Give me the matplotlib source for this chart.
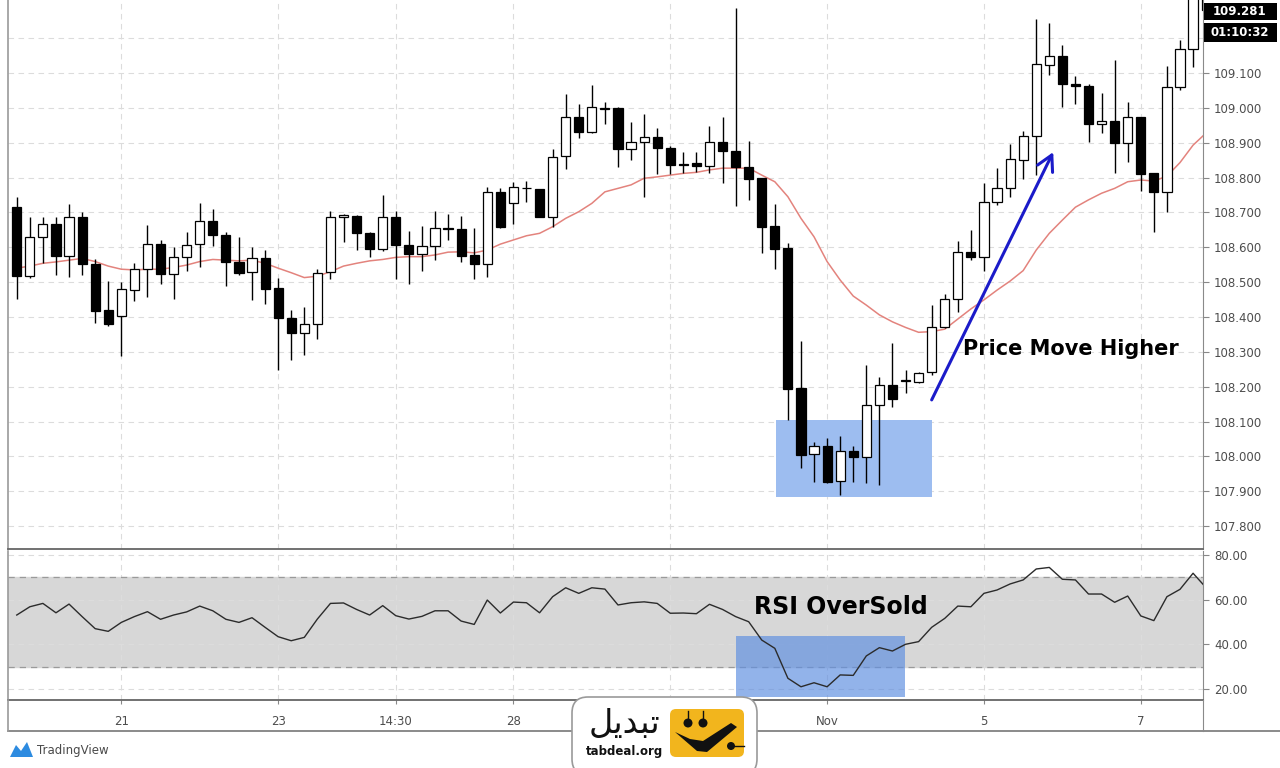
import numpy as np
import matplotlib.pyplot as plt
from matplotlib.patches import Rectangle, FancyBboxPatch, Circle, Polygon
from matplotlib.lines import Line2D

# 4h candles (open, high, low, close)
opens = [108.716, 108.518, 108.629, 108.667, 108.576, 108.688, 108.552, 108.420, 108.403, 108.477,
         108.537, 108.609, 108.523, 108.573, 108.609, 108.676, 108.635, 108.558, 108.528, 108.570,
         108.482, 108.398, 108.353, 108.379, 108.529, 108.686, 108.690, 108.642, 108.595, 108.688,
         108.606, 108.580, 108.604, 108.655, 108.652, 108.578, 108.552, 108.759, 108.728, 108.771,
         108.766, 108.688, 108.862, 108.975, 108.932, 109.000, 108.999, 108.882, 108.901, 108.917,
         108.886, 108.838, 108.841, 108.834, 108.903, 108.877, 108.831, 108.798, 108.661, 108.597,
         108.195, 108.006, 108.030, 107.930, 108.016, 107.999, 108.147, 108.205, 108.215, 108.214,
         108.241, 108.372, 108.451, 108.587, 108.571, 108.731, 108.769, 108.850, 108.919, 109.123,
         109.150, 109.068, 109.063, 108.954, 108.963, 108.900, 108.973, 108.812, 108.758, 109.059,
         109.168, 109.330]
highs = [108.745, 108.686, 108.686, 108.686, 108.723, 108.700, 108.567, 108.504, 108.500, 108.554,
         108.664, 108.621, 108.602, 108.643, 108.726, 108.710, 108.645, 108.630, 108.602, 108.592,
         108.511, 108.420, 108.429, 108.537, 108.705, 108.696, 108.694, 108.645, 108.750, 108.704,
         108.648, 108.661, 108.704, 108.695, 108.690, 108.654, 108.772, 108.769, 108.788, 108.791,
         108.768, 108.881, 109.039, 109.011, 109.066, 109.018, 109.003, 108.959, 108.982, 108.941,
         108.891, 108.874, 108.874, 108.948, 108.973, 109.286, 108.906, 108.800, 108.723, 108.611,
         108.331, 108.042, 108.052, 108.058, 108.030, 108.262, 108.229, 108.324, 108.248, 108.243,
         108.434, 108.466, 108.618, 108.650, 108.784, 108.828, 108.896, 108.934, 109.254, 109.243,
         109.180, 109.091, 109.068, 109.042, 109.137, 109.018, 108.975, 108.813, 109.121, 109.195,
         109.340, 109.345]
lows = [108.451, 108.513, 108.554, 108.520, 108.514, 108.520, 108.384, 108.375, 108.288, 108.447,
        108.456, 108.494, 108.451, 108.533, 108.542, 108.604, 108.489, 108.520, 108.449, 108.437,
        108.248, 108.277, 108.291, 108.336, 108.508, 108.616, 108.592, 108.573, 108.590, 108.508,
        108.495, 108.533, 108.563, 108.621, 108.557, 108.508, 108.514, 108.654, 108.666, 108.731,
        108.686, 108.659, 108.824, 108.913, 108.927, 108.954, 108.829, 108.850, 108.745, 108.810,
        108.810, 108.814, 108.817, 108.812, 108.785, 108.718, 108.736, 108.583, 108.537, 108.104,
        107.966, 107.927, 107.924, 107.889, 107.927, 107.923, 107.918, 108.142, 108.181, 108.211,
        108.233, 108.367, 108.415, 108.563, 108.533, 108.721, 108.745, 108.795, 108.807, 109.094,
        109.002, 109.011, 108.903, 108.929, 108.814, 108.845, 108.762, 108.645, 108.702, 109.051,
        109.118, 109.270]
closes = [108.518, 108.629, 108.667, 108.576, 108.688, 108.552, 108.418, 108.380, 108.479, 108.537,
          108.609, 108.523, 108.573, 108.606, 108.676, 108.635, 108.558, 108.525, 108.570, 108.480,
          108.398, 108.353, 108.379, 108.527, 108.686, 108.692, 108.642, 108.595, 108.688, 108.606,
          108.580, 108.604, 108.654, 108.652, 108.576, 108.552, 108.759, 108.659, 108.772, 108.769,
          108.688, 108.860, 108.975, 108.932, 109.003, 108.997, 108.882, 108.901, 108.917, 108.886,
          108.836, 108.837, 108.833, 108.903, 108.877, 108.831, 108.796, 108.659, 108.594, 108.192,
          108.004, 108.030, 107.927, 108.016, 107.999, 108.147, 108.205, 108.164, 108.218, 108.238,
          108.372, 108.451, 108.587, 108.571, 108.731, 108.769, 108.852, 108.920, 109.125, 109.150,
          109.068, 109.063, 108.953, 108.963, 108.900, 108.973, 108.810, 108.758, 109.059, 109.168,
          109.330, 109.281]

ma_values = [108.540, 108.546, 108.554, 108.558, 108.563, 108.568, 108.559, 108.546, 108.537, 108.535,
             108.537, 108.537, 108.542, 108.549, 108.559, 108.565, 108.563, 108.561, 108.563, 108.554,
             108.540, 108.527, 108.513, 108.517, 108.530, 108.546, 108.554, 108.561, 108.565, 108.571,
             108.573, 108.573, 108.578, 108.586, 108.587, 108.584, 108.592, 108.609, 108.621, 108.633,
             108.640, 108.659, 108.683, 108.702, 108.726, 108.759, 108.769, 108.779, 108.798, 108.802,
             108.807, 108.812, 108.815, 108.822, 108.827, 108.827, 108.827, 108.807, 108.788, 108.745,
             108.683, 108.630, 108.559, 108.506, 108.460, 108.434, 108.406, 108.386, 108.370, 108.356,
             108.358, 108.365, 108.394, 108.423, 108.449, 108.477, 108.503, 108.533, 108.592, 108.640,
             108.678, 108.715, 108.736, 108.755, 108.769, 108.788, 108.793, 108.790, 108.804, 108.843,
             108.893, 108.928]

rsi_values = [53.1, 56.8, 58.3, 54.1, 58.0, 52.4, 47.0, 45.8, 49.8, 52.4,
              54.6, 51.2, 53.1, 54.5, 57.1, 55.0, 51.2, 49.8, 51.9, 47.6,
              43.4, 41.6, 43.1, 51.3, 58.3, 58.5, 55.6, 53.1, 57.3, 52.8,
              51.3, 52.5, 55.0, 55.0, 50.4, 48.9, 59.8, 54.0, 58.9, 58.6,
              54.1, 61.3, 65.3, 62.8, 65.3, 64.7, 57.6, 58.6, 59.0, 58.3,
              53.9, 54.0, 53.7, 57.9, 55.6, 52.4, 50.1, 41.9, 38.2, 24.8,
              21.0, 22.8, 21.0, 26.3, 26.1, 34.8, 38.5, 37.0, 40.0, 41.2,
              47.6, 51.6, 57.1, 56.8, 62.8, 64.3, 67.0, 68.8, 73.7, 74.4,
              69.1, 68.8, 62.5, 62.5, 58.8, 61.6, 52.7, 50.6, 61.3, 64.6,
              71.8, 65.3]

time_ticks = [8, 20, 29, 38, 50, 62, 74, 86]
time_labels = ["21", "23", "14:30", "28", "30", "Nov", "5", "7"]
price_ticks = [107.8, 107.9, 108.0, 108.1, 108.2, 108.3, 108.4, 108.5, 108.6,
               108.7, 108.8, 108.9, 109.0, 109.1, 109.2]
rsi_ticks = [20, 40, 60, 80]

last_price = "109.281"
countdown = "01:10:32"

# highlighted zones (x0, x1, y0, y1)
zone_price = (58.1, 70.0, 107.883, 108.104)
zone_rsi = (55.0, 67.96, 16.4, 43.7)
arrow_start = (70.0, 108.162)
arrow_end = (79.3, 108.873)

W, H = 1280, 768


def fx(px):
    return px / W


def fy(py):
    return 1 - py / H


fig = plt.figure(figsize=(12.8, 7.68), dpi=100)
fig.patch.set_facecolor("white")

ax = fig.add_axes([fx(8), fy(549), fx(1195), 549 / H])
ax2 = fig.add_axes([fx(8), fy(700), fx(1195), 149 / H], sharex=ax)

x = np.arange(len(opens))
o = np.array(opens)
h = np.array(highs)
l = np.array(lows)
c = np.array(closes)
up = c >= o

grid_kw = dict(color="#dcdcdc", linestyle=(0, (5, 4)), linewidth=0.8)

# main pane
ax.vlines(x, l, h, color="black", linewidth=1.0, zorder=3)
ax.bar(x, np.maximum(np.abs(c - o), 0.002), bottom=np.minimum(o, c), width=0.7,
       color=np.where(up, "white", "black"), edgecolor="black", linewidth=0.9, zorder=4)
ax.plot(x, ma_values, color="#e3837d", linewidth=1.1, zorder=2)

ax.add_patch(Rectangle((zone_price[0], zone_price[2]), zone_price[1] - zone_price[0],
                       zone_price[3] - zone_price[2], facecolor="#9dbdf0", edgecolor="none", zorder=1.5))

ax.annotate("", xy=arrow_end, xytext=arrow_start,
            arrowprops=dict(arrowstyle="->,head_length=0.55,head_width=0.3", color="#1b1bc9",
                            lw=2.2, shrinkA=0, shrinkB=0, mutation_scale=20), zorder=6)
ax.text(72.4, 108.307, "Price Move Higher", fontsize=15, fontweight="bold", color="black",
        va="center", ha="left", zorder=7)

ax.set_xlim(-0.67, 90.76)
ax.set_ylim(107.7342, 109.3095)
ax.set_xticks(time_ticks)
ax.set_yticks(price_ticks)
ax.grid(True, **grid_kw)
ax.set_axisbelow(True)
ax.yaxis.tick_right()
# the 109.200 label sits under the countdown tag
ax.set_yticklabels([f"{v:.3f}" if v < 109.15 else "" for v in price_ticks])
ax.tick_params(axis="x", length=0, labelbottom=False)
ax.tick_params(axis="y", length=4, color="#888888", labelsize=8.5, labelcolor="#4d4d4d", pad=4)

# rsi pane
ax2.axhspan(30, 70, color="#d7d7d7", zorder=0.5)
ax2.axhline(70, color="#9a9a9a", linestyle=(0, (5, 4)), linewidth=0.9, zorder=0.6)
ax2.axhline(30, color="#9a9a9a", linestyle=(0, (5, 4)), linewidth=0.9, zorder=0.6)
ax2.add_patch(Rectangle((zone_rsi[0], zone_rsi[2]), zone_rsi[1] - zone_rsi[0],
                        zone_rsi[3] - zone_rsi[2], facecolor="#5f8fe0", alpha=0.68,
                        edgecolor="none", zorder=2))
ax2.plot(x, rsi_values, color="#2b2b2b", linewidth=1.0, zorder=3)
ax2.text(56.4, 56.7, "RSI OverSold", fontsize=17, fontweight="bold", color="black",
         va="center", ha="left", zorder=7)

ax2.set_ylim(15.08, 81.75)
ax2.set_yticks(rsi_ticks)
ax2.grid(True, **grid_kw)
ax2.set_axisbelow(True)
ax2.yaxis.tick_right()
ax2.set_yticklabels([f"{v:.2f}" for v in rsi_ticks])
ax2.set_xticks(time_ticks)
ax2.set_xticklabels(time_labels)
ax2.tick_params(axis="y", length=4, color="#888888", labelsize=8.5, labelcolor="#4d4d4d", pad=4)
ax2.tick_params(axis="x", length=3, color="#888888", labelsize=8.5, labelcolor="#4d4d4d", pad=8)

for a in (ax, ax2):
    a.set_facecolor("white")
    a.spines["top"].set_visible(False)
    a.spines["left"].set_color("#9a9a9a")
    a.spines["left"].set_linewidth(1.2)
    a.spines["right"].set_color("#8a8a8a")
    a.spines["bottom"].set_color("#666666")
    a.spines["bottom"].set_linewidth(1.3)

# time axis frame
fig.add_artist(Line2D([fx(8), fx(1280)], [fy(731), fy(731)], color="#777777", lw=1.2))
fig.add_artist(Line2D([fx(8), fx(8)], [fy(700), fy(731)], color="#9a9a9a", lw=1.2))
fig.add_artist(Line2D([fx(1203), fx(1203)], [fy(700), fy(731)], color="#8a8a8a", lw=0.8))

# last price / countdown tags
fig.add_artist(Rectangle((fx(1204), fy(20)), fx(73), 17 / H, transform=fig.transFigure,
                         facecolor="black", edgecolor="none", zorder=5))
fig.add_artist(Rectangle((fx(1204), fy(42)), fx(73), 19 / H, transform=fig.transFigure,
                         facecolor="black", edgecolor="none", zorder=5))
fig.text(fx(1240), fy(11.5), last_price, color="white", fontsize=8.5, fontweight="bold",
         ha="center", va="center", zorder=6)
fig.text(fx(1240), fy(32.5), countdown, color="white", fontsize=8.5, fontweight="bold",
         ha="center", va="center", zorder=6)


# logos, drawn in pixel-like inches
def pin(px, py):
    return (px / 100, (H - py) / 100)


tr = fig.dpi_scale_trans
fig.add_artist(FancyBboxPatch(pin(572, 775), 1.85, 0.78, boxstyle="round,pad=0,rounding_size=0.16",
                              facecolor="white", edgecolor="#9a9a9a", lw=1.2, transform=tr, zorder=10))
fig.add_artist(FancyBboxPatch(pin(670, 757), 0.74, 0.48, boxstyle="round,pad=0,rounding_size=0.06",
                              facecolor="#f2b51d", edgecolor="none", transform=tr, zorder=11))
smile = [pin(675, 732), pin(690, 739), pin(703, 741), pin(731, 723), pin(737, 727),
         pin(707, 752), pin(697, 751)]
fig.add_artist(Polygon(smile, closed=True, facecolor="#111111", edgecolor="none", transform=tr, zorder=12))
for ex in (688, 703):
    fig.add_artist(Circle(pin(ex, 723), 0.045, facecolor="#111111", transform=tr, zorder=12))
    fig.add_artist(Line2D([ex / 100, ex / 100], [(H - 723) / 100, (H - 711) / 100], color="#111111",
                          lw=1.0, transform=tr, zorder=12))
fig.add_artist(Circle(pin(731, 746), 0.04, facecolor="#111111", transform=tr, zorder=12))
fig.add_artist(Line2D([7.31, 7.44], [(H - 746) / 100] * 2, color="#111111", lw=1.0, transform=tr, zorder=12))

fig.text(fx(624), fy(723), "\ufede\ufef3\ufeaa\ufe92\ufe97", fontsize=24, color="#111111",
         ha="center", va="center", zorder=12, family=["DejaVu Sans"])
fig.text(fx(624), fy(752), "tabdeal.org", fontsize=8.5, fontweight="bold", color="#111111",
         ha="center", va="center", zorder=12)

tv_icon = [pin(10, 757), pin(16, 745), pin(21, 751), pin(27, 742), pin(33, 757)]
fig.add_artist(Polygon(tv_icon, closed=True, facecolor="#2d8be0", edgecolor="none", transform=tr))
fig.text(fx(37), fy(750.5), "TradingView", fontsize=8.5, color="#4a4a4a", ha="left", va="center")

fig.savefig("out.png", dpi=100, facecolor="white")
